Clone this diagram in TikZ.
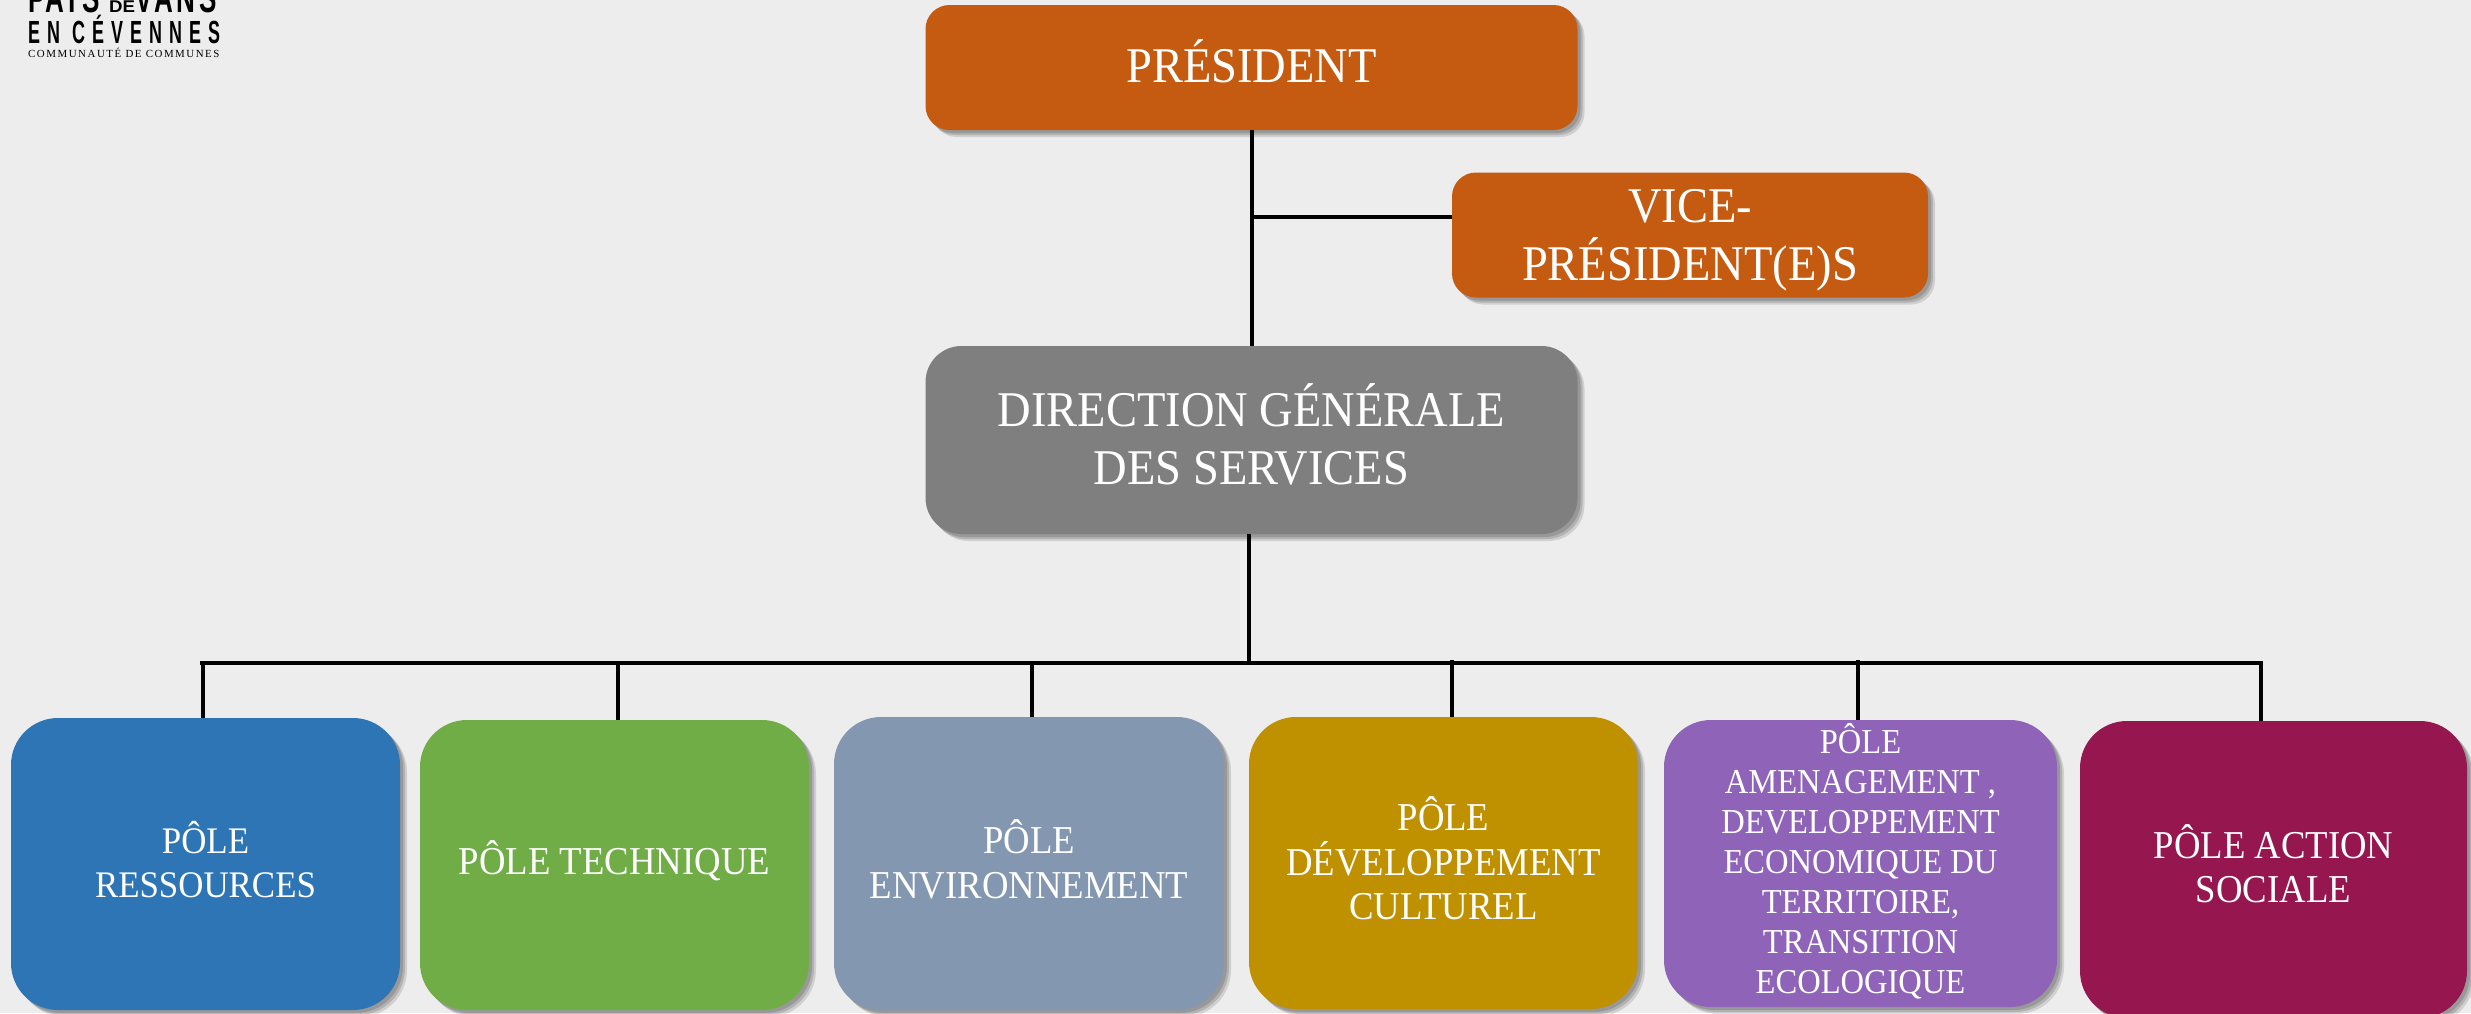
\documentclass[tikz,border=0pt]{standalone}
\usepackage{fontspec}
\setmainfont[FakeStretch=0.93]{Liberation Serif}
\newfontfamily\logofont[FakeStretch=0.56,LetterSpace=22]{Liberation Sans Bold}
\newfontfamily\logotop[FakeStretch=0.62,LetterSpace=4]{Liberation Sans Bold}
\newfontfamily\logovans[FakeStretch=0.62,LetterSpace=9]{Liberation Sans Bold}
\newfontfamily\logomark[FakeStretch=1.1]{Liberation Sans Bold}
\newfontfamily\logosmall[LetterSpace=14]{Liberation Serif}
\usetikzlibrary{shadows}
\newcommand\pushup[1]{\rule[-#1]{0pt}{#1}}
\definecolor{bgc}{HTML}{EDEDED}
\definecolor{orangec}{HTML}{C55A11}
\definecolor{greyc}{HTML}{7F7F7F}
\definecolor{bluec}{HTML}{2E75B6}
\definecolor{greenc}{HTML}{70AD47}
\definecolor{slatec}{HTML}{8497B0}
\definecolor{goldc}{HTML}{BF9000}
\definecolor{purplec}{HTML}{8E63B8}
\definecolor{crimsonc}{HTML}{96174F}
\tikzset{
  softshadow/.style={
    general shadow={shadow xshift=3pt,shadow yshift=-3pt,fill=black,fill opacity=.14},
    general shadow={shadow xshift=5pt,shadow yshift=-5pt,fill=black,fill opacity=.14},
    general shadow={shadow xshift=7pt,shadow yshift=-7pt,fill=black,fill opacity=.12}},
  topbox/.style={softshadow,draw=none,text=white,align=center,inner sep=0pt,
    font=\fontsize{50}{58}\selectfont},
  polebox/.style={softshadow,draw=none,text=white,align=center,inner sep=0pt,rounded corners=47pt,
    font=\fontsize{39.5}{44.5}\selectfont},
  wire/.style={draw=black,line width=3.5pt},
  buswire/.style={draw=black,line width=4pt},
  logotext/.style={inner sep=0pt,anchor=base west,text=black}
}
\begin{document}
\begin{tikzpicture}[x=1pt,y=-1pt]
\useasboundingbox (0,0) rectangle (2471,1013);
\fill[bgc] (0,0) rectangle (2471,1013);
% top boxes
\node[topbox,fill=orangec,rounded corners=24pt,minimum width=652pt,minimum height=125pt] (pres) at (1251.5,67.5) {PRÉSIDENT\pushup{12pt}};
\node[topbox,fill=orangec,rounded corners=24pt,minimum width=476pt,minimum height=125pt] (vice) at (1690,235) {\rule{0pt}{43pt}VICE-\\PRÉSIDENT(E)S};
\node[topbox,fill=greyc,rounded corners=36pt,minimum width=652pt,minimum height=188pt] (dg) at (1251.5,440) {DIRECTION GÉNÉRALE\\DES SERVICES\pushup{12pt}};
% poles
\node[polebox,fill=bluec,minimum width=389pt,minimum height=292pt,font=\fontsize{37.5}{44.5}\selectfont] (p1) at (205.5,864) {PÔLE\\RESSOURCES\pushup{9pt}};
\node[polebox,fill=greenc,minimum width=389pt,minimum height=290pt] (p2) at (614.5,865) {PÔLE TECHNIQUE\pushup{14pt}};
\node[polebox,fill=slatec,minimum width=390pt,minimum height=293pt] (p3) at (1029,863.5) {PÔLE\\ENVIRONNEMENT\pushup{9pt}};
\node[polebox,fill=goldc,minimum width=389pt,minimum height=292pt] (p4) at (1443.5,863) {PÔLE\\DÉVELOPPEMENT\\CULTUREL\pushup{9pt}};
\node[polebox,fill=purplec,minimum width=393pt,minimum height=287pt,font=\fontsize{35}{40}\selectfont] (p5) at (1860.5,863.5) {PÔLE\\AMENAGEMENT ,\\DEVELOPPEMENT\\ECONOMIQUE DU\\TERRITOIRE,\\TRANSITION\\ECOLOGIQUE\pushup{10pt}};
\node[polebox,fill=crimsonc,minimum width=387pt,minimum height=297pt] (p6) at (2273.5,869.5) {PÔLE ACTION\\SOCIALE\pushup{12pt}};
% connectors
\coordinate (pj) at (1252,217);
\coordinate (dgout) at (1249,534);
\coordinate (busmid) at (1249,663);
\coordinate (busl) at (200,663);
\coordinate (busr) at (2263,663);
\coordinate (d1) at (203,663);
\coordinate (d2) at (618,663);
\coordinate (d3) at (1032,663);
\coordinate (d4) at (1452,660);
\coordinate (d5) at (1858,660);
\coordinate (d6) at (2261,663);
\draw[wire] (pres.south -| pj) -- (dg.north -| pj);
\draw[wire] (pj) -- (pj -| vice.west);
\draw[wire] (dgout) -- (busmid);
\draw[buswire] (busl) -- (busr);
\draw[wire] (d1) -- (d1 |- p1.north);
\draw[wire] (d2) -- (d2 |- p2.north);
\draw[wire] (d3) -- (d3 |- p3.north);
\draw[wire] (d4) -- (d4 |- p4.north);
\draw[wire] (d5) -- (d5 |- p5.north);
\draw[wire] (d6) -- (d6 |- p6.north);
% logo
\node[logotext,font=\logotop\fontsize{42}{42}\selectfont] (lg1) at (28,12) {PAYS};
\node[logotext,font=\logomark\fontsize{17}{17}\selectfont] (lg5) at (109,12) {DE};
\node[logotext,font=\logovans\fontsize{42}{42}\selectfont] (lg2) at (135,12) {VANS};
\node[logotext,font=\logofont\fontsize{32}{32}\selectfont] (lg3) at (28,43) {EN CÉVENNES};
\node[logotext,font=\logosmall\fontsize{10.9}{10.9}\selectfont] (lg4) at (28,57) {COMMUNAUTÉ DE COMMUNES};
\end{tikzpicture}
\end{document}
